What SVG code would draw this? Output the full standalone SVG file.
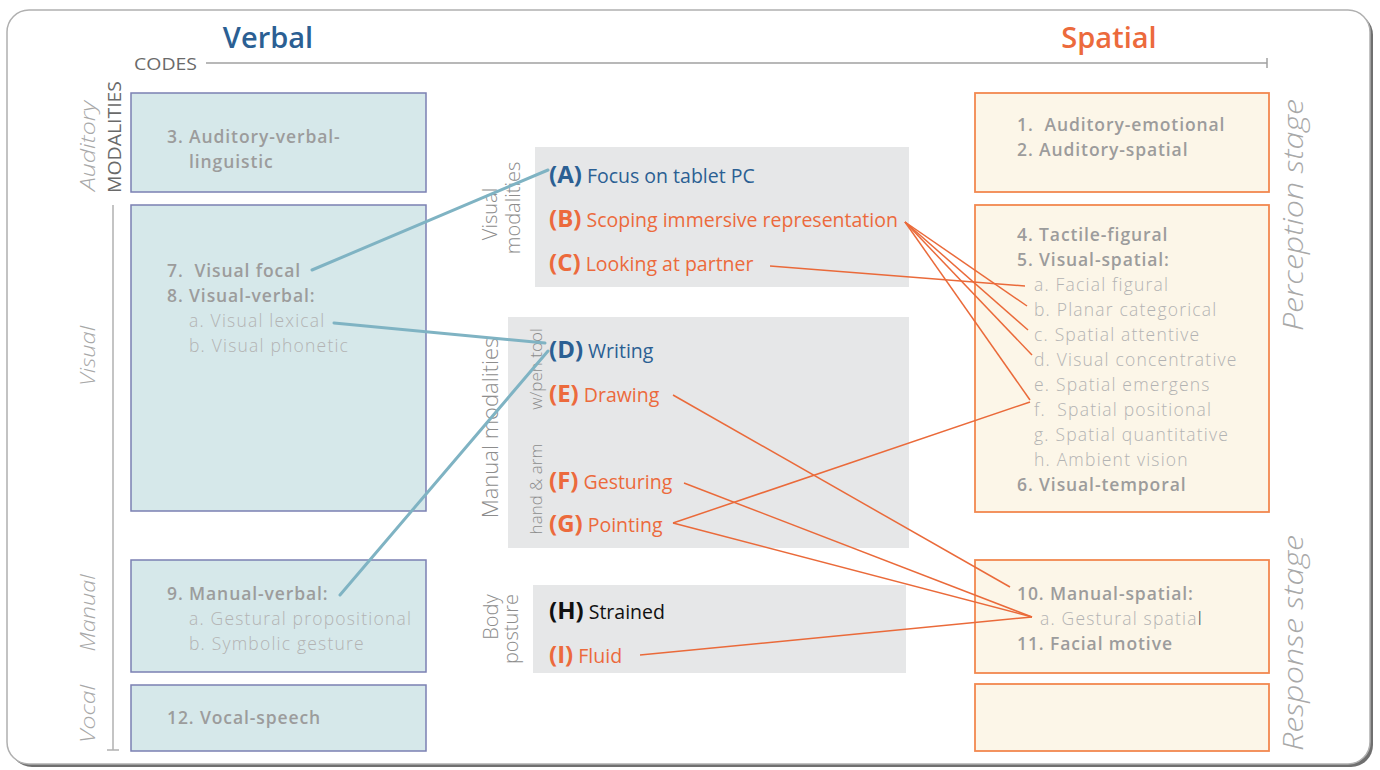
<svg xmlns="http://www.w3.org/2000/svg" width="1380" height="770" viewBox="0 0 1380 770">
<style>
.vb{fill:#d6e8ea;stroke:#7b80b3;stroke-width:1.5}
.sp{fill:#fcf6e8;stroke:#f2884f;stroke-width:1.8}
.gb{fill:#e6e7e8}
.bt{font-family:"Open Sans","Liberation Sans",sans-serif;font-size:17.5px;font-weight:600;fill:#9c9c9c;letter-spacing:0.9px;white-space:pre}
.lt{font-family:"Open Sans","Liberation Sans",sans-serif;font-size:17.5px;font-weight:300;fill:#b3b3b3;letter-spacing:1.2px;white-space:pre}
.lab{font-family:"Open Sans","Liberation Sans",sans-serif;font-size:19.5px}
.let{font-weight:bold;font-size:24px}
.blue{fill:#2b5f93}
.or{fill:#ec6a3c}
.ax{font-family:"Open Sans","Liberation Sans",sans-serif;fill:#a8a8a8;font-style:italic;font-weight:300}
.mod{font-family:"Open Sans","Liberation Sans",sans-serif;fill:#8d8d8d;font-weight:300}
.cb{stroke:#7fb3c3;stroke-width:3;fill:none;stroke-linecap:round}
.co{stroke:#ea6a3a;stroke-width:1.5;fill:none}
</style>
<g id="frame">
<rect x="10" y="13" width="1363" height="754" rx="22" fill="#6f6f6f"/>
<rect x="7" y="10" width="1363" height="754" rx="22" fill="#ffffff" stroke="#b0b0b0" stroke-width="1.5"/>
</g>
<g id="headers">
<text x="268" y="48" text-anchor="middle" font-family="Open Sans, Liberation Sans, sans-serif" font-size="29" font-weight="600" fill="#2b5f93">Verbal</text>
<text x="1109" y="48" text-anchor="middle" font-family="Open Sans, Liberation Sans, sans-serif" font-size="29" font-weight="600" fill="#ec6a3c">Spatial</text>
<text x="134" y="70" font-family="Open Sans, Liberation Sans, sans-serif" font-size="17" fill="#6a6a6a" textLength="63" lengthAdjust="spacingAndGlyphs">CODES</text>
<line x1="206" y1="63" x2="1267" y2="63" stroke="#a0a0a0" stroke-width="1.5"/>
<line x1="1267" y1="58" x2="1267" y2="68" stroke="#a0a0a0" stroke-width="1.5"/>
<line x1="113" y1="205" x2="113" y2="750" stroke="#b0b0b0" stroke-width="1.5"/>
<line x1="107" y1="750" x2="119" y2="750" stroke="#b0b0b0" stroke-width="1.5"/>
<text transform="translate(95,146) rotate(-90)" text-anchor="middle" class="ax" font-size="21" textLength="90" lengthAdjust="spacingAndGlyphs">Auditory</text>
<text transform="translate(121,137) rotate(-90)" text-anchor="middle" font-family="Open Sans, Liberation Sans, sans-serif" font-size="19" fill="#6a6a6a" textLength="112" lengthAdjust="spacingAndGlyphs">MODALITIES</text>
<text transform="translate(95,356) rotate(-90)" text-anchor="middle" class="ax" font-size="21" textLength="60" lengthAdjust="spacingAndGlyphs">Visual</text>
<text transform="translate(95,613) rotate(-90)" text-anchor="middle" class="ax" font-size="21" textLength="77" lengthAdjust="spacingAndGlyphs">Manual</text>
<text transform="translate(95,714) rotate(-90)" text-anchor="middle" class="ax" font-size="21" textLength="58" lengthAdjust="spacingAndGlyphs">Vocal</text>
<text transform="translate(1303,215) rotate(-90)" text-anchor="middle" class="ax" font-size="28" textLength="232" lengthAdjust="spacingAndGlyphs">Perception stage</text>
<text transform="translate(1303,643) rotate(-90)" text-anchor="middle" class="ax" font-size="28" textLength="216" lengthAdjust="spacingAndGlyphs">Response stage</text>
</g>
<g id="verbal-auditory">
<rect class="vb" x="131" y="93" width="295" height="99"/>
<text class="bt" x="167" y="143">3. Auditory-verbal-</text>
<text class="bt" x="189" y="168">linguistic</text>
</g>
<g id="verbal-visual">
<rect class="vb" x="131" y="205" width="295" height="306"/>
<text class="bt" x="167" y="277">7.  Visual focal</text>
<text class="bt" x="167" y="302">8. Visual-verbal:</text>
<text class="lt" x="189" y="327">a. Visual lexical</text>
<text class="lt" x="189" y="352">b. Visual phonetic</text>
</g>
<g id="verbal-manual">
<rect class="vb" x="131" y="560" width="295" height="112"/>
<text class="bt" x="167" y="600">9. Manual-verbal:</text>
<text class="lt" x="189" y="625">a. Gestural propositional</text>
<text class="lt" x="189" y="650">b. Symbolic gesture</text>
</g>
<g id="verbal-vocal">
<rect class="vb" x="131" y="685" width="295" height="66"/>
<text class="bt" x="167" y="724">12. Vocal-speech</text>
</g>
<g id="visual-modalities">
<rect class="gb" x="535" y="147" width="374" height="140"/>
<text transform="translate(497,214) rotate(-90)" text-anchor="middle" class="mod" font-size="20">Visual</text>
<text transform="translate(520,208) rotate(-90)" text-anchor="middle" class="mod" font-size="20">modalities</text>
<text class="lab blue" x="549" y="183"><tspan class="let">(A)</tspan> Focus on tablet PC</text>
<text class="lab or" x="549" y="227"><tspan class="let">(B)</tspan> Scoping immersive representation</text>
<text class="lab or" x="549" y="271"><tspan class="let">(C)</tspan> Looking at partner</text>
</g>
<g id="manual-modalities">
<rect class="gb" x="508" y="317" width="401" height="231"/>
<text transform="translate(498,428) rotate(-90)" text-anchor="middle" class="mod" font-size="22">Manual modalities</text>
<text transform="translate(542,369) rotate(-90)" text-anchor="middle" class="mod" font-size="17" fill="#a0a0a0">w/pen tool</text>
<text transform="translate(542,489) rotate(-90)" text-anchor="middle" class="mod" font-size="17" fill="#a0a0a0">hand &amp; arm</text>
<text class="lab blue" x="549" y="358"><tspan class="let">(D)</tspan> Writing</text>
<text class="lab or" x="549" y="402"><tspan class="let">(E)</tspan> Drawing</text>
<text class="lab or" x="549" y="489"><tspan class="let">(F)</tspan> Gesturing</text>
<text class="lab or" x="549" y="532"><tspan class="let">(G)</tspan> Pointing</text>
</g>
<g id="body-posture">
<rect class="gb" x="533" y="585" width="373" height="88"/>
<text transform="translate(498,617) rotate(-90)" text-anchor="middle" class="mod" font-size="20">Body</text>
<text transform="translate(518,629) rotate(-90)" text-anchor="middle" class="mod" font-size="20">posture</text>
<text class="lab" x="549" y="619" fill="#111"><tspan class="let">(H)</tspan> Strained</text>
<text class="lab or" x="549" y="663"><tspan class="let">(I)</tspan> Fluid</text>
</g>
<g id="spatial-auditory">
<rect class="sp" x="975" y="93" width="294" height="99"/>
<text class="bt" x="1017" y="131">1.  Auditory-emotional</text>
<text class="bt" x="1017" y="156">2. Auditory-spatial</text>
</g>
<g id="spatial-visual">
<rect class="sp" x="975" y="205" width="294" height="307"/>
<text class="bt" x="1017" y="241">4. Tactile-figural</text>
<text class="bt" x="1017" y="266">5. Visual-spatial:</text>
<text class="lt" x="1034" y="291">a. Facial figural</text>
<text class="lt" x="1034" y="316">b. Planar categorical</text>
<text class="lt" x="1034" y="341">c. Spatial attentive</text>
<text class="lt" x="1034" y="366">d. Visual concentrative</text>
<text class="lt" x="1034" y="391">e. Spatial emergens</text>
<text class="lt" x="1034" y="416">f.  Spatial positional</text>
<text class="lt" x="1034" y="441">g. Spatial quantitative</text>
<text class="lt" x="1034" y="466">h. Ambient vision</text>
<text class="bt" x="1017" y="491">6. Visual-temporal</text>
</g>
<g id="spatial-manual">
<rect class="sp" x="975" y="560" width="294" height="113"/>
<text class="bt" x="1017" y="600">10. Manual-spatial:</text>
<text class="lt" x="1040" y="625">a. Gestural spatia<tspan fill="#444">l</tspan></text>
<text class="bt" x="1017" y="650">11. Facial motive</text>
</g>
<g id="spatial-empty">
<rect class="sp" x="975" y="684" width="294" height="67"/>
</g>
<g id="connectors">
<line class="cb" x1="312" y1="270" x2="548" y2="170"/>
<line class="cb" x1="334" y1="323" x2="545" y2="343"/>
<line class="cb" x1="340" y1="595" x2="548" y2="351"/>
<line class="co" x1="905" y1="222" x2="1027" y2="306"/>
<line class="co" x1="905" y1="222" x2="1028" y2="330"/>
<line class="co" x1="905" y1="222" x2="1032" y2="355"/>
<line class="co" x1="905" y1="222" x2="1030" y2="400"/>
<line class="co" x1="770" y1="266" x2="1025" y2="286"/>
<line class="co" x1="673" y1="395" x2="1010" y2="587"/>
<line class="co" x1="684" y1="483" x2="1032" y2="617"/>
<line class="co" x1="673" y1="523" x2="1030" y2="402"/>
<line class="co" x1="673" y1="523" x2="1032" y2="617"/>
<line class="co" x1="640" y1="655" x2="1032" y2="617"/>
</g>
</svg>
